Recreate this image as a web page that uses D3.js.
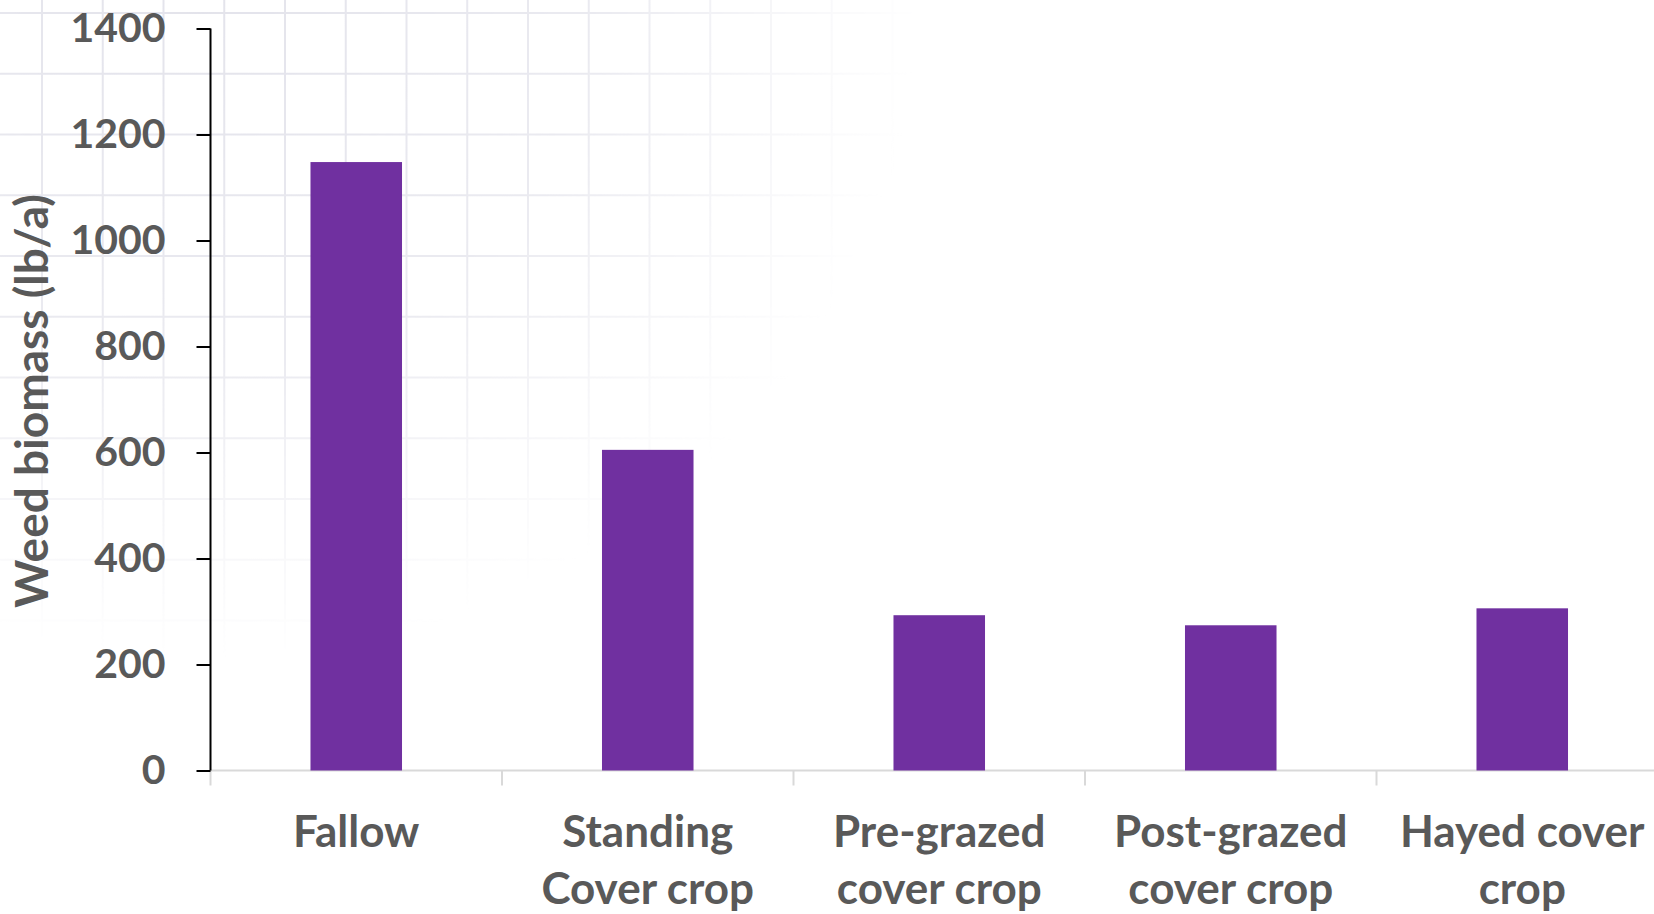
<!DOCTYPE html>
<html>
<head>
<meta charset="utf-8">
<script src="https://cdn.jsdelivr.net/npm/d3@7"></script>
<style>
  html, body { margin: 0; padding: 0; background: #ffffff; }
  svg { display: block; }
  text { font-family: "Lato", "Open Sans", sans-serif; font-weight: 700; fill: #595959; }
</style>
</head>
<body>
<svg id="chart" width="1654" height="914"></svg>
<script>
// Weed biomass by cover-crop management
const categories = [
  ["Fallow"],
  ["Standing", "Cover crop"],
  ["Pre-grazed", "cover crop"],
  ["Post-grazed", "cover crop"],
  ["Hayed cover", "crop"]
];
const biomass = [1148, 605, 293, 274, 306];
const yTicks = [0, 200, 400, 600, 800, 1000, 1200, 1400];
const yTitle = "Weed biomass (lb/a)";

const W = 1654, H = 914;
const margin = { left: 210.5, top: 28.5, bottom: 770.5 };
const step = 291.5;

const svg = d3.select("#chart");

// Faint graph-paper texture fading out from the upper left
const defs = svg.append("defs");
const grad = defs.append("radialGradient")
  .attr("id", "paperFade")
  .attr("cx", 0.5).attr("cy", 0.5).attr("r", 0.5);
grad.append("stop").attr("offset", 0).attr("stop-color", "#fff");
grad.append("stop").attr("offset", 0.55).attr("stop-color", "#bbb");
grad.append("stop").attr("offset", 1).attr("stop-color", "#000");
defs.append("mask").attr("id", "paperMask")
  .attr("maskUnits", "userSpaceOnUse")
  .attr("x", 0).attr("y", 0).attr("width", W).attr("height", H)
  .append("rect")
  .attr("x", -520).attr("y", -680).attr("width", 1440).attr("height", 1340)
  .attr("fill", "url(#paperFade)");

const paper = svg.append("g").attr("mask", "url(#paperMask)")
  .attr("stroke", "#e3e3eb").attr("stroke-width", 2);
const gridGap = 60.75;
paper.selectAll("line.h").data(d3.range(12)).join("line")
  .attr("class", "h")
  .attr("x1", 0).attr("x2", 950)
  .attr("y1", k => 13 + k * gridGap).attr("y2", k => 13 + k * gridGap);
paper.selectAll("line.v").data(d3.range(16)).join("line")
  .attr("class", "v")
  .attr("y1", 0).attr("y2", 700)
  .attr("x1", k => 42 + k * gridGap).attr("x2", k => 42 + k * gridGap);

// Scales
const x = d3.scaleBand()
  .domain(d3.range(categories.length))
  .range([margin.left, margin.left + step * categories.length])
  .paddingInner(0.686)
  .paddingOuter(0.343);

const y = d3.scaleLinear()
  .domain([0, 1400])
  .range([margin.bottom, margin.top]);

// Category axis: light baseline with separators between groups
const xAxis = svg.append("g");
xAxis.append("line")
  .attr("x1", margin.left).attr("x2", W)
  .attr("y1", y(0)).attr("y2", y(0))
  .attr("stroke", "#d9d9d9").attr("stroke-width", 2);
xAxis.selectAll("line.sep").data(d3.range(categories.length + 1)).join("line")
  .attr("class", "sep")
  .attr("x1", i => x.range()[0] + i * x.step())
  .attr("x2", i => x.range()[0] + i * x.step())
  .attr("y1", y(0)).attr("y2", y(0) + 15)
  .attr("stroke", "#d9d9d9").attr("stroke-width", 2);

// Bars
svg.append("g").selectAll("rect").data(biomass).join("rect")
  .attr("x", (d, i) => x(i))
  .attr("width", x.bandwidth())
  .attr("y", d => y(d))
  .attr("height", d => y(0) - y(d))
  .attr("fill", "#7030a0");

// Category labels
const labels = svg.append("g").selectAll("text").data(categories).join("text")
  .attr("text-anchor", "middle")
  .attr("font-size", 44)
  .attr("transform", (d, i) => `translate(${x(i) + x.bandwidth() / 2},847)`);
labels.selectAll("tspan").data(d => d).join("tspan")
  .attr("x", 0)
  .attr("y", (d, j) => j * 57)
  .text(d => d);

// Value axis
const yAxis = svg.append("g")
  .attr("transform", `translate(${margin.left},0)`)
  .call(d3.axisLeft(y).tickValues(yTicks).tickFormat(d3.format("d"))
    .tickSize(14).tickSizeOuter(0).tickPadding(31));
yAxis.select(".domain").attr("stroke", "#000").attr("stroke-width", 2)
  .attr("d", `M0,${y(0)}V${y(1400)}`);
yAxis.selectAll(".tick line").attr("stroke", "#000").attr("stroke-width", 2);
yAxis.selectAll(".tick text")
  .attr("font-size", 41)
  .attr("font-family", "Lato, 'Open Sans', sans-serif")
  .attr("font-weight", 700)
  .attr("fill", "#595959");

// Axis title
svg.append("text")
  .attr("transform", `translate(48,401) rotate(-90)`)
  .attr("text-anchor", "middle")
  .attr("font-size", 46)
  .text(yTitle);
</script>
</body>
</html>
